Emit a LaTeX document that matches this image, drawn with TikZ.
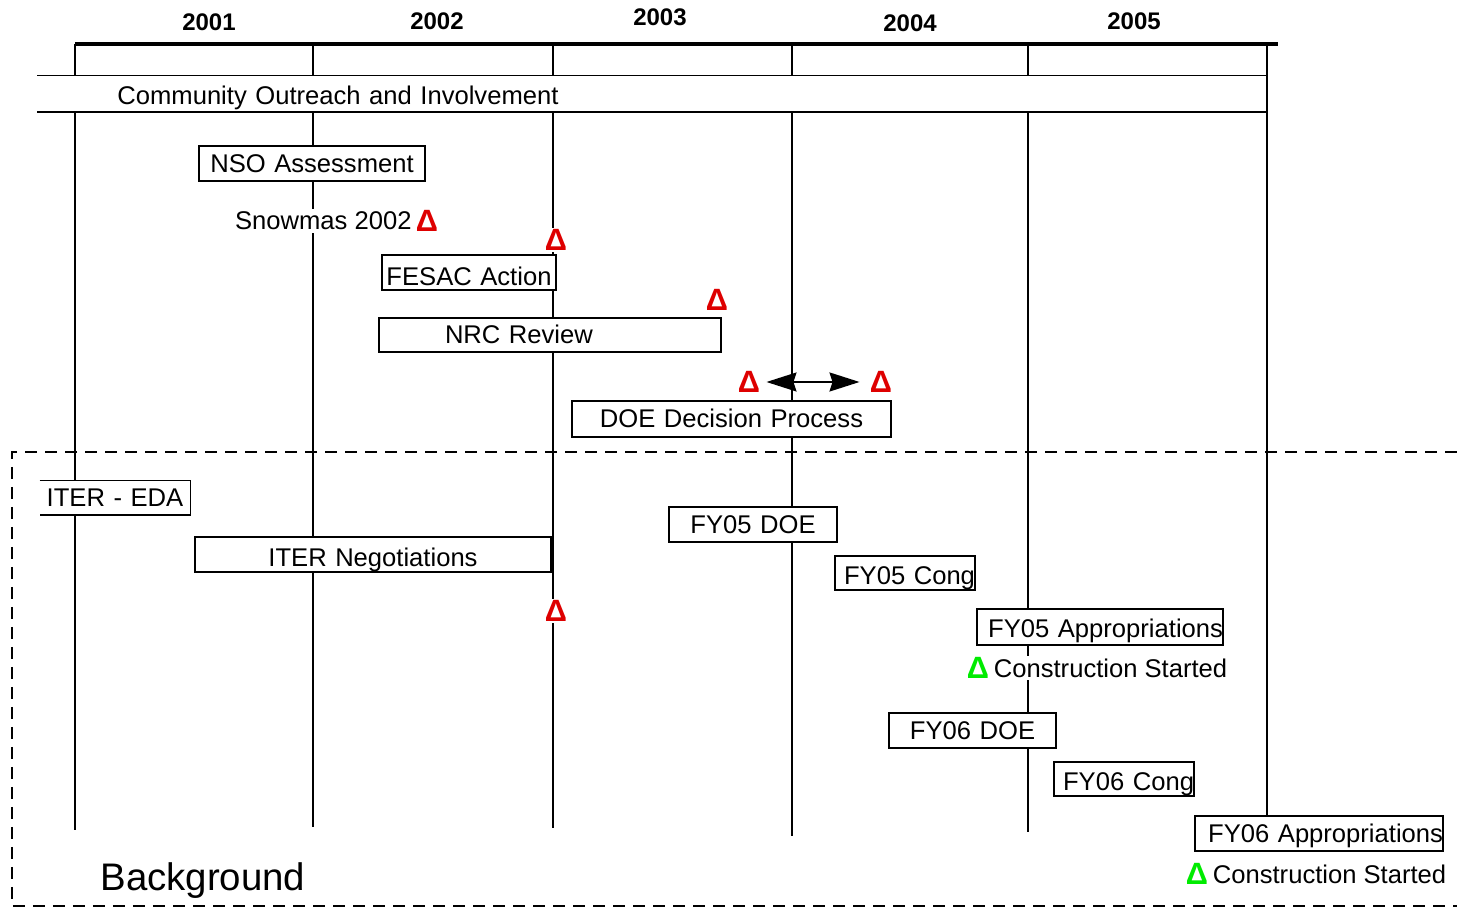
\documentclass[tikz,border=0pt]{standalone}
\usepackage{fontspec}
\setmainfont{Liberation Sans}
\usetikzlibrary{positioning,arrows.meta}
\definecolor{msred}{RGB}{222,0,0}
\definecolor{msgreen}{RGB}{0,235,0}

\begin{document}
\begin{tikzpicture}[x=0.5pt,y=-0.5pt,
  bar/.style={draw, fill=white, line width=0.9pt, inner xsep=0pt, inner ysep=0pt,
    minimum height=17.5pt, text height=12.9pt, text depth=4.1pt, align=center,
    font=\fontsize{12.8}{15}\selectfont},
  sink/.style={text height=14.4pt, text depth=2.6pt},
  year/.style={font=\bfseries\fontsize{12}{14}\selectfont},
  delta/.style={fill=white, inner sep=0.5pt, text=msred, font=\bfseries\fontsize{15.4}{17}\selectfont},
  lbl/.style={fill=white, inner sep=1.5pt, font=\fontsize{12.8}{15}\selectfont}]
  \useasboundingbox (0,0) rectangle (1457,908);

  \draw[dash pattern=on 6pt off 4pt, line width=0.75pt] (1457,452) -- (12,452) -- (12,906) -- (1457,906);

  \foreach \x/\yb in {75/830,313/827,553/828,792/836,1028/832,1267/816}
    \draw[line width=0.9pt] (\x,44) -- (\x,\yb);
  \draw[line width=2pt] (75,44) -- (1278,44);

  \node[year] (y2001) at (209,22) {2001};
  \node[year] (y2002) at (437,21) {2002};
  \node[year] (y2003) at (660,17) {2003};
  \node[year] (y2004) at (910,23) {2004};
  \node[year] (y2005) at (1134,21) {2005};

  \node[fill=white, anchor=west, inner xsep=40pt, inner ysep=0pt, minimum height=18pt,
    text height=13.9pt, text depth=3.1pt, text width=534.5pt, align=left,
    font=\fontsize{12.8}{15}\selectfont] (comm) at (37,94)
    {Community Outreach and Involvement};
  \draw[line width=0.9pt] (comm.north west) -- (comm.north east)
    (comm.south west) -- (comm.south east);

  \node[bar, text width=113pt] (nso) at (312,163.5) {NSO Assessment};
  \node[lbl, anchor=east] (snow) at (415,221) {Snowmas 2002};
  \node[delta] (d1) at (427,221) {Δ};
  \node[bar, sink, text height=14.9pt, text depth=2.1pt, text width=87pt] (fesac) at (469,272.5) {FESAC Action};
  \node[delta] (d2) at (556,240) {Δ};
  \node[bar, text width=171pt, align=left, minimum height=17pt] (nrc) at (550,335)
    {\hspace*{33pt}NRC Review};
  \node[delta] (d3) at (717,300) {Δ};
  \node[bar, text width=159.5pt, minimum height=18pt] (doe) at (731.5,419) {DOE Decision Process};
  \node[delta] (d4) at (749,382) {Δ};
  \node[delta] (d5) at (881,382) {Δ};
  \draw[arrows={Stealth[length=15pt,width=9.5pt,inset=1.5pt]-Stealth[length=15pt,width=9.5pt,inset=1.5pt]},
    line width=0.9pt, shorten <=2.5pt, shorten >=4.5pt] (d4) -- (d5);

  \node[fill=white, inner xsep=0pt, inner ysep=0pt, minimum height=17pt, text width=75pt,
    align=center, font=\fontsize{12.8}{15}\selectfont] (eda) at (115,498) {ITER - EDA};
  \draw[line width=0.9pt] (eda.north west) -- (eda.north east) -- (eda.south east) -- (eda.south west);
  \node[bar, sink, text width=178pt] (neg) at (373,554.5) {ITER Negotiations};
  \node[delta] (d6) at (556,611) {Δ};

  \node[bar, text width=84pt] (fy5doe) at (753,524.5) {FY05 DOE};
  \node[bar, sink, text width=70pt, align=right, minimum height=17pt] (fy5cong) at (905,573) {FY05 Cong};
  \node[bar, text height=13.9pt, text depth=3.1pt, text width=123pt, align=right, minimum height=18pt] (fy5app) at (1100,627) {FY05 Appropriations};
  \node[delta, text=msgreen] (g1) at (978,668) {Δ};
  \node[lbl, right=0pt of g1] (cs1) {Construction Started};

  \node[bar, text width=83.5pt] (fy6doe) at (972.5,730.5) {FY06 DOE};
  \node[bar, sink, text width=70pt, align=right, minimum height=17pt] (fy6cong) at (1124,779) {FY06 Cong};
  \node[bar, text width=124pt, align=right] (fy6app) at (1319,833.5) {FY06 Appropriations};
  \node[delta, text=msgreen] (g2) at (1197,874) {Δ};
  \node[lbl, right=0pt of g2] (cs2) {Construction Started};

  \node[anchor=west, inner sep=0pt, font=\fontsize{19.2}{22}\selectfont] (bg) at (100,881) {Background};
\end{tikzpicture}
\end{document}
